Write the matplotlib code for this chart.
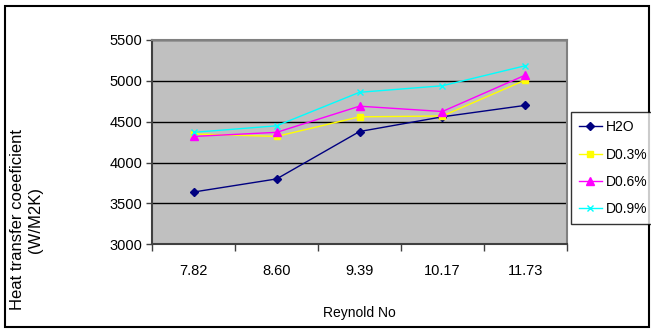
import matplotlib.pyplot as plt
from matplotlib.patches import Rectangle

plt.rcParams['font.family'] = ['Liberation Sans', 'DejaVu Sans']

# Reynolds number categories and heat transfer coefficient per fluid
reynolds = ['7.82', '8.60', '9.39', '10.17', '11.73']
h2o = [3640, 3800, 4380, 4560, 4700]
d03 = [4350, 4320, 4560, 4570, 5010]
d06 = [4320, 4370, 4690, 4625, 5070]
d09 = [4370, 4450, 4860, 4940, 5185]

W, H = 651, 330
fig = plt.figure(figsize=(W / 100, H / 100), dpi=100)
ax = fig.add_axes([152.3 / W, 1 - 244.3 / H, (566.7 - 152.3) / W, (244.3 - 40) / H])
ax.set_facecolor('#C0C0C0')

xs = [i + 0.5 for i in range(len(reynolds))]
series = [
    ('H2O', h2o, '#000080', 'D', 4),
    ('D0.3%', d03, '#FFFF00', 's', 4.5),
    ('D0.6%', d06, '#FF00FF', '^', 5.5),
    ('D0.9%', d09, '#00FFFF', 'x', 4.5),
]
for name, vals, col, mk, ms in series:
    ax.plot(xs, vals, color=col, marker=mk, markersize=ms, linewidth=1,
            markeredgewidth=1, label=name)

ax.set_xlim(0, len(reynolds))
ax.set_ylim(3000, 5500)
ax.set_yticks(range(3000, 5501, 500))
ax.yaxis.grid(True, color='black', linewidth=1)
ax.set_axisbelow(True)

# tick marks sit between categories, labels at the centres
ax.set_xticks(range(len(reynolds) + 1))
ax.set_xticklabels([])
ax.set_xticks(xs, minor=True)
ax.set_xticklabels(reynolds, minor=True)
ax.tick_params(axis='x', which='major', length=5, width=1, color='#404040')
ax.tick_params(axis='x', which='minor', length=0, pad=14, labelsize=10.5)
ax.tick_params(axis='y', length=4, width=1, color='#404040', labelsize=10.5, pad=3)

for side in ('left', 'bottom'):
    ax.spines[side].set_color('#404040')
    ax.spines[side].set_linewidth(1.5)
for side in ('top', 'right'):
    ax.spines[side].set_color('#808080')
    ax.spines[side].set_linewidth(1.5)

ax.set_xlabel('Reynold No', fontsize=10, labelpad=20)

fig.text(18 / W, 1 - 220 / H, 'Heat transfer coeeficient', rotation=90,
         fontsize=12, ha='center', va='center')
fig.text(35 / W, 1 - 220 / H, '(W/M2K)', rotation=90,
         fontsize=12, ha='center', va='center')

leg = fig.legend(loc='upper left', bbox_to_anchor=(571 / W, 1 - 112 / H),
                 frameon=True, fancybox=False, fontsize=10, handlelength=1.6,
                 handletextpad=0.3, borderpad=0.6, labelspacing=0.95,
                 borderaxespad=0)
leg.get_frame().set_edgecolor('black')
leg.get_frame().set_linewidth(1)

# outer chart border
fig.patches.append(Rectangle((5 / W, 3 / H), (649 - 5) / W, (324 - 3) / H,
                             transform=fig.transFigure, fill=False,
                             edgecolor='black', linewidth=1.5))

fig.savefig('out.png', dpi=100)
